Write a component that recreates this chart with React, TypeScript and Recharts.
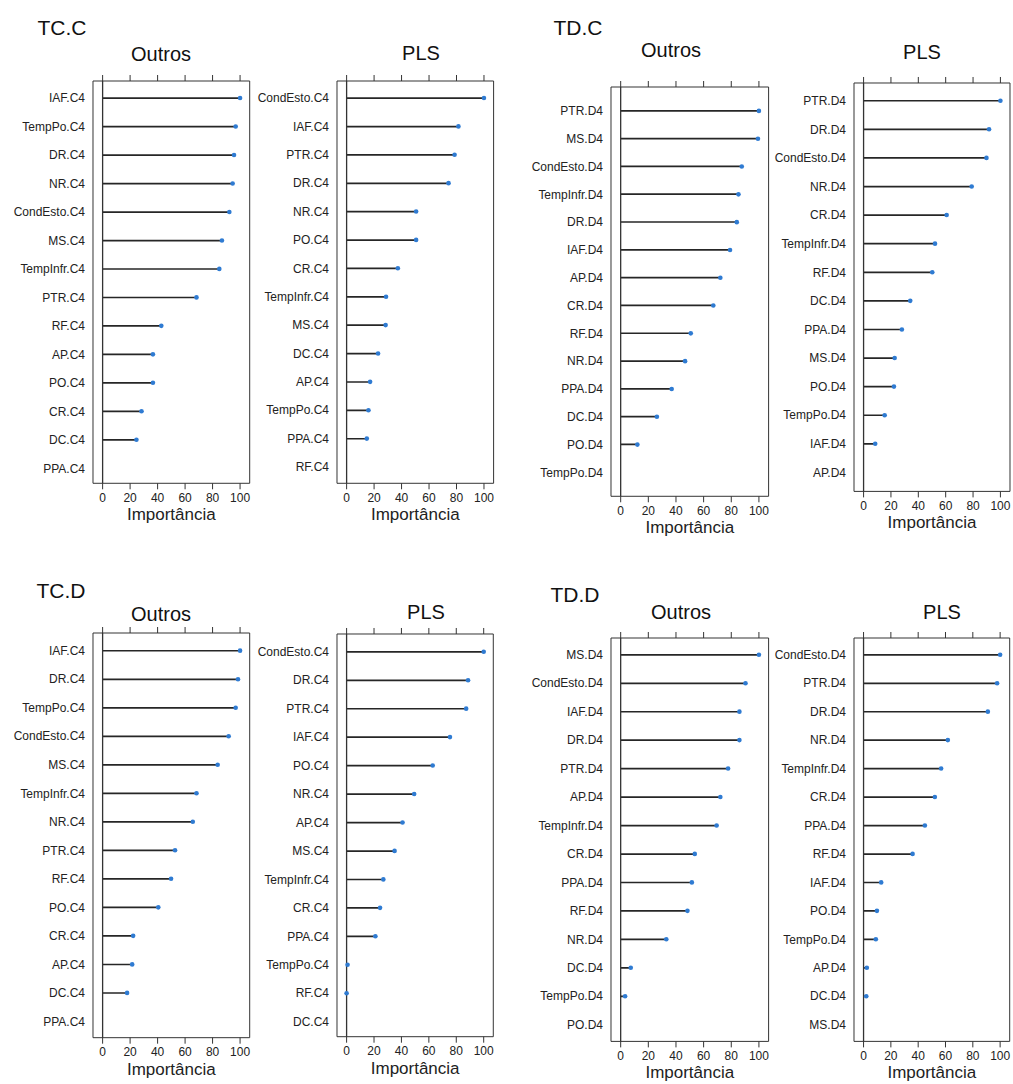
import React from "react";
import { ComposedChart, XAxis, YAxis, Bar, Line, ReferenceLine } from "recharts";

const FONT = '"Liberation Sans", Arial, Helvetica, sans-serif';

// x ticks shared by all panels
const xTicks = [0, 20, 40, 60, 80, 100];

// TC.C
const tccOutrosVars = ["IAF.C4", "TempPo.C4", "DR.C4", "NR.C4", "CondEsto.C4", "MS.C4", "TempInfr.C4", "PTR.C4", "RF.C4", "AP.C4", "PO.C4", "CR.C4", "DC.C4", "PPA.C4"];
const tccOutrosImp = [100, 96.8, 95.6, 94.6, 92.2, 86.8, 84.9, 68.3, 42.7, 36.6, 36.6, 28.3, 24.6, null];
const tccPlsVars = ["CondEsto.C4", "IAF.C4", "PTR.C4", "DR.C4", "NR.C4", "PO.C4", "CR.C4", "TempInfr.C4", "MS.C4", "DC.C4", "AP.C4", "TempPo.C4", "PPA.C4", "RF.C4"];
const tccPlsImp = [100, 81.4, 78.6, 74.2, 50.6, 50.6, 37.3, 28.7, 28.4, 22.9, 17.1, 15.9, 14.7, null];

// TD.C
const tdcOutrosVars = ["PTR.D4", "MS.D4", "CondEsto.D4", "TempInfr.D4", "DR.D4", "IAF.D4", "AP.D4", "CR.D4", "RF.D4", "NR.D4", "PPA.D4", "DC.D4", "PO.D4", "TempPo.D4"];
const tdcOutrosImp = [100, 99.3, 87.6, 85.2, 84, 79.1, 72.1, 67, 50.7, 46.6, 36.9, 26.2, 12.1, null];
const tdcPlsVars = ["PTR.D4", "DR.D4", "CondEsto.D4", "NR.D4", "CR.D4", "TempInfr.D4", "RF.D4", "DC.D4", "PPA.D4", "MS.D4", "PO.D4", "TempPo.D4", "IAF.D4", "AP.D4"];
const tdcPlsImp = [100, 91.7, 89.8, 79, 60.7, 52.2, 50.2, 34.1, 28, 22.7, 22.2, 15.4, 8.5, null];

// TC.D
const tcdOutrosVars = ["IAF.C4", "DR.C4", "TempPo.C4", "CondEsto.C4", "MS.C4", "TempInfr.C4", "NR.C4", "PTR.C4", "RF.C4", "PO.C4", "CR.C4", "AP.C4", "DC.C4", "PPA.C4"];
const tcdOutrosImp = [100, 98.5, 96.8, 91.7, 83.7, 68.3, 65.6, 52.7, 49.8, 40.5, 22.2, 21.5, 17.8, null];
const tcdPlsVars = ["CondEsto.C4", "DR.C4", "PTR.C4", "IAF.C4", "PO.C4", "NR.C4", "AP.C4", "MS.C4", "TempInfr.C4", "CR.C4", "PPA.C4", "TempPo.C4", "RF.C4", "DC.C4"];
const tcdPlsImp = [100, 88.6, 87.2, 75.4, 62.8, 49.3, 40.8, 35, 26.8, 24.4, 21, 0.7, 0, null];

// TD.D
const tddOutrosVars = ["MS.D4", "CondEsto.D4", "IAF.D4", "DR.D4", "PTR.D4", "AP.D4", "TempInfr.D4", "CR.D4", "PPA.D4", "RF.D4", "NR.D4", "DC.D4", "TempPo.D4", "PO.D4"];
const tddOutrosImp = [100, 90.3, 85.9, 85.9, 77.7, 72.1, 69.4, 53.6, 51.5, 48.3, 33, 7.3, 3.2, null];
const tddPlsVars = ["CondEsto.D4", "PTR.D4", "DR.D4", "NR.D4", "TempInfr.D4", "CR.D4", "PPA.D4", "RF.D4", "IAF.D4", "PO.D4", "TempPo.D4", "AP.D4", "DC.D4", "MS.D4"];
const tddPlsImp = [100, 97.8, 91, 61.7, 56.8, 52.2, 44.9, 35.9, 12.9, 9.8, 9, 2.4, 2, null];

const groupTitles = [
  { text: "TC.C", x: 62, y: 27 },
  { text: "TD.C", x: 578, y: 27 },
  { text: "TC.D", x: 61, y: 590 },
  { text: "TD.D", x: 575, y: 594 },
];

// box = [left, top, right, bottom] of the plot frame
const panels = [
  { title: "Outros", vars: tccOutrosVars, imp: tccOutrosImp, box: [93.3, 80.7, 250, 483], pad: [2.8, 0.8], tx: 161, ty: 54 },
  { title: "PLS", vars: tccPlsVars, imp: tccPlsImp, box: [336.7, 80.7, 493.3, 483], pad: [2.8, 2.1], tx: 421, ty: 53 },
  { title: "Outros", vars: tdcOutrosVars, imp: tdcOutrosImp, box: [610.7, 86.7, 768.3, 496], pad: [10, 10], tx: 671, ty: 50 },
  { title: "PLS", vars: tdcPlsVars, imp: tdcPlsImp, box: [854, 83.3, 1010, 491.7], pad: [3.4, 4.7], tx: 922, ty: 52 },
  { title: "Outros", vars: tcdOutrosVars, imp: tcdOutrosImp, box: [93.3, 633.3, 250, 1038], pad: [3.4, 2], tx: 161, ty: 614 },
  { title: "PLS", vars: tcdPlsVars, imp: tcdPlsImp, box: [337, 634, 493.3, 1036.7], pad: [3.5, 0.8], tx: 426, ty: 612 },
  { title: "Outros", vars: tddOutrosVars, imp: tddOutrosImp, box: [610.7, 638.3, 768.3, 1041.7], pad: [2.5, 2.5], tx: 681, ty: 612 },
  { title: "PLS", vars: tddPlsVars, imp: tddPlsImp, box: [854.3, 638.3, 1010, 1041.7], pad: [2.5, 2.5], tx: 942, ty: 612 },
];

const STEM = "#262626";
const DOT = "#2f7bd2";
const FRAME = "#333";

const YW = 90; // label area
const HT = 8; // top tick area
const HB = 46; // bottom ticks + title
const MR = 2;

function Stem(props: any) {
  const { x, y, width, height } = props;
  if (width == null || !isFinite(width) || width === 0) return <g />;
  const cy = y + height / 2;
  return <line x1={x} x2={x + width} y1={cy} y2={cy} stroke={STEM} strokeWidth={1.7} />;
}

function Panel({ p }: { p: (typeof panels)[number] }) {
  const [L, T, R, B] = p.box;
  const data = p.vars.map((name, i) => ({ name, value: p.imp[i] }));
  const w = YW + (R - L) + MR;
  const h = HT + (B - T) + HB;
  return (
    <>
      <div
        style={{
          position: "absolute",
          left: p.tx,
          top: p.ty,
          transform: "translate(-50%, -50%)",
          fontSize: 20,
          lineHeight: 1,
          whiteSpace: "nowrap",
          color: "#111",
        }}
      >
        {p.title}
      </div>
      <div style={{ position: "absolute", left: L - YW, top: T - HT }}>
        <ComposedChart
          width={w}
          height={h}
          data={data}
          layout="vertical"
          margin={{ top: 0, right: MR, bottom: 0, left: 0 }}
        >
          <XAxis
            type="number"
            domain={[-7, 107]}
            ticks={xTicks}
            allowDataOverflow
            height={HB}
            tickSize={6}
            tickMargin={4}
            stroke={FRAME}
            tick={{ fill: "#222", fontSize: 12, fontFamily: FONT }}
            label={{ value: "Importância", position: "insideBottom", offset: 9, fontSize: 17, fill: "#222", fontFamily: FONT }}
          />
          <XAxis
            xAxisId="top"
            orientation="top"
            type="number"
            domain={[-7, 107]}
            ticks={xTicks}
            allowDataOverflow
            height={HT}
            tickSize={6}
            stroke={FRAME}
            tickFormatter={() => ""}
          />
          <YAxis
            type="category"
            dataKey="name"
            width={YW}
            interval={0}
            tickLine={false}
            padding={{ top: p.pad[0], bottom: p.pad[1] }}
            stroke={FRAME}
            tick={{ fill: "#222", fontSize: 12, fontFamily: FONT }}
          />
          <ReferenceLine x={107} stroke={FRAME} strokeWidth={1} />
          <ReferenceLine x={0} stroke={FRAME} strokeWidth={1.3} />
          <Bar dataKey="value" shape={<Stem />} isAnimationActive={false} />
          <Line
            dataKey="value"
            stroke="none"
            dot={{ r: 2.3, fill: DOT, stroke: "none" }}
            activeDot={false}
            isAnimationActive={false}
          />
        </ComposedChart>
      </div>
    </>
  );
}

export default function App() {
  return (
    <div
      style={{
        position: "absolute",
        left: 0,
        top: 0,
        width: 1013,
        height: 1084,
        background: "#fff",
        overflow: "hidden",
        fontFamily: FONT,
      }}
    >
      {groupTitles.map((g) => (
        <div
          key={g.text}
          style={{
            position: "absolute",
            left: g.x,
            top: g.y,
            transform: "translate(-50%, -50%)",
            fontSize: 21,
            lineHeight: 1,
            color: "#111",
          }}
        >
          {g.text}
        </div>
      ))}
      {panels.map((p, i) => (
        <Panel key={i} p={p} />
      ))}
    </div>
  );
}
